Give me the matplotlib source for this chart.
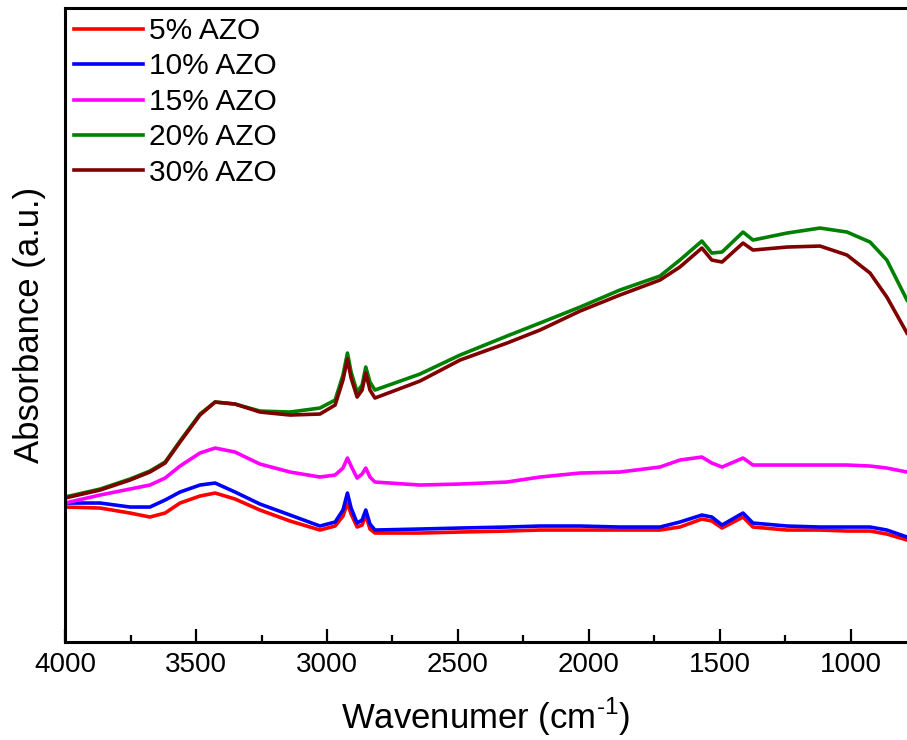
import matplotlib
matplotlib.use("Agg")
import matplotlib.pyplot as plt
from matplotlib.ticker import MultipleLocator

plt.rcParams["font.family"] = ["Liberation Sans", "DejaVu Sans"]
plt.rcParams["mathtext.fontset"] = "custom"
plt.rcParams["mathtext.rm"] = "Liberation Sans"

# FTIR absorbance spectra of the AZO samples (arbitrary units)
wavenumber = [4000, 3866, 3752, 3676, 3618, 3561, 3485, 3427, 3351, 3256,
              3141, 3027, 2969, 2939, 2922, 2908, 2885, 2866, 2852, 2836,
              2817, 2645, 2492, 2313, 2187, 2034, 1882, 1729, 1653, 1569,
              1531, 1492, 1412, 1374, 1244, 1118, 1015, 927, 863, 786]

azo_5 = [1.35, 1.34, 1.29, 1.25, 1.29, 1.39, 1.46, 1.49, 1.43, 1.32,
         1.21, 1.12, 1.16, 1.26, 1.39, 1.28, 1.15, 1.17, 1.27, 1.13,
         1.09, 1.09, 1.10, 1.11, 1.12, 1.12, 1.12, 1.12, 1.15, 1.23,
         1.21, 1.14, 1.25, 1.15, 1.12, 1.12, 1.11, 1.11, 1.08, 1.02]

azo_10 = [1.39, 1.39, 1.35, 1.35, 1.42, 1.50, 1.57, 1.59, 1.50, 1.38,
          1.27, 1.16, 1.20, 1.32, 1.49, 1.34, 1.19, 1.22, 1.32, 1.18,
          1.12, 1.13, 1.14, 1.15, 1.16, 1.16, 1.15, 1.15, 1.20, 1.27,
          1.25, 1.17, 1.29, 1.19, 1.16, 1.15, 1.15, 1.15, 1.12, 1.05]

azo_15 = [1.39, 1.47, 1.53, 1.57, 1.64, 1.76, 1.89, 1.94, 1.90, 1.78,
          1.70, 1.65, 1.67, 1.74, 1.84, 1.76, 1.64, 1.68, 1.74, 1.65,
          1.60, 1.57, 1.58, 1.60, 1.65, 1.69, 1.70, 1.75, 1.82, 1.85,
          1.79, 1.75, 1.84, 1.77, 1.77, 1.77, 1.77, 1.76, 1.74, 1.70]

azo_20 = [1.45, 1.53, 1.63, 1.71, 1.80, 2.01, 2.28, 2.40, 2.38, 2.31,
          2.30, 2.34, 2.42, 2.67, 2.89, 2.70, 2.50, 2.57, 2.75, 2.60,
          2.52, 2.68, 2.87, 3.06, 3.19, 3.35, 3.52, 3.66, 3.82, 4.01,
          3.89, 3.90, 4.10, 4.02, 4.09, 4.14, 4.10, 4.00, 3.82, 3.42]

azo_30 = [1.44, 1.52, 1.62, 1.70, 1.79, 2.00, 2.27, 2.40, 2.38, 2.30,
          2.27, 2.28, 2.37, 2.62, 2.83, 2.64, 2.45, 2.52, 2.69, 2.52,
          2.44, 2.61, 2.82, 2.99, 3.12, 3.31, 3.47, 3.62, 3.75, 3.94,
          3.82, 3.80, 3.99, 3.92, 3.95, 3.96, 3.87, 3.69, 3.45, 3.09]

labels = ["5% AZO", "10% AZO", "15% AZO", "20% AZO", "30% AZO"]
colors = ["#ff0000", "#0000ff", "#ff00ff", "#008000", "#800000"]

fig = plt.figure(figsize=(9.07, 7.40), dpi=100)
ax = fig.add_axes([0.0717, 0.1324, 0.9283, 0.8567])

for series, label, color in zip([azo_5, azo_10, azo_15, azo_20, azo_30], labels, colors):
    ax.plot(wavenumber, series, color=color, linewidth=2.6, label=label)

ax.set_xlim(4000, 786)
ax.set_ylim(0, 6.34)
ax.xaxis.set_major_locator(MultipleLocator(500))
ax.xaxis.set_minor_locator(MultipleLocator(250))
ax.set_yticks([])

ax.tick_params(axis="x", which="major", direction="in", length=9.5, width=1.6,
               labelsize=20, pad=7)
ax.tick_params(axis="x", which="minor", direction="in", length=5, width=1.6)
ax.tick_params(axis="x", top=False)

for side in ["left", "bottom", "top"]:
    ax.spines[side].set_linewidth(2.2)
ax.spines["right"].set_visible(False)

ax.set_xlabel("Wavenumer (cm$^{\\mathregular{\u20101}}$)", fontsize=25, labelpad=13)
ax.set_ylabel("Absorbance (a.u.)", fontsize=25, labelpad=14)

ax.legend(loc="upper left", bbox_to_anchor=(0.0, 1.0), frameon=False,
          fontsize=21.5, handlelength=2.3, handletextpad=0.2,
          labelspacing=0.25, borderaxespad=0.0, borderpad=0.3)

fig.savefig("out.png", dpi=100)
